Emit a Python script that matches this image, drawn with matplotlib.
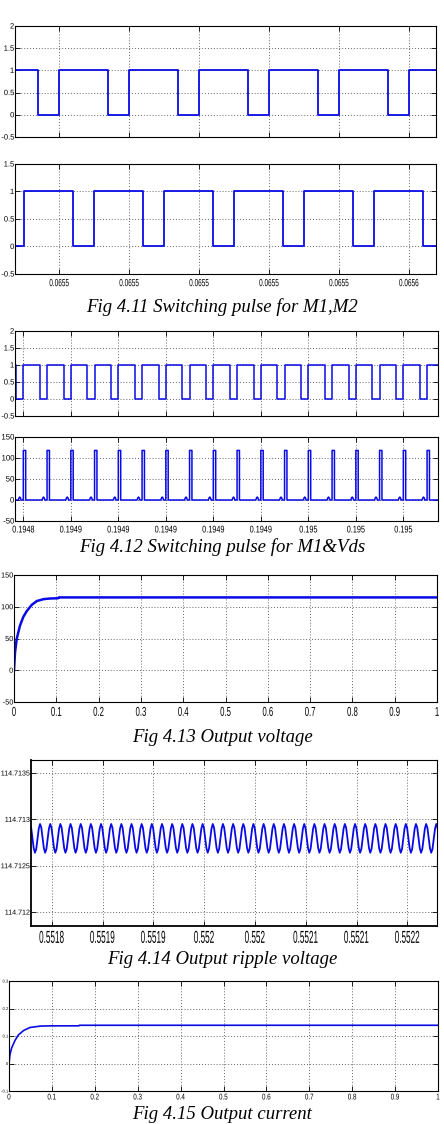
import matplotlib
matplotlib.use('Agg')
import matplotlib.pyplot as plt
import matplotlib.patheffects as pe
from matplotlib.transforms import Affine2D

W, H = 444, 1124

# Fig 4.11 switching pulses for M1, M2 (time in s)
f411_ticks = [0.06550, 0.06551, 0.06552, 0.06553, 0.06554, 0.06555]
f411_tick_labels = ['0.0655', '0.0655', '0.0655', '0.0655', '0.0655', '0.0656']
f411_xlim = (0.0654937, 0.0655539)
m1_rise = [0.06550, 0.06551, 0.06552, 0.06553, 0.06554, 0.06555]
m1_fall = [0.065497, 0.065507, 0.065517, 0.065527, 0.065537, 0.065547]
m2_rise = [0.065495, 0.065505, 0.065515, 0.065525, 0.065535, 0.065545]
m2_fall = [0.065502, 0.065512, 0.065522, 0.065532, 0.065542, 0.065552]

# Fig 4.12 switching pulse for M1 and Vds
f412_ticks = [0.19484, 0.19486, 0.19488, 0.19490, 0.19492, 0.19494, 0.19496, 0.19498, 0.19500]
f412_tick_labels = ['0.1948', '0.1949', '0.1949', '0.1949', '0.1949', '0.1949', '0.195', '0.195', '0.195']
f412_xlim = (0.1948365, 0.1950146)
g1_rise = [0.19484, 0.19485, 0.19486, 0.19487, 0.19488, 0.19489, 0.19490, 0.19491, 0.19492,
           0.19493, 0.19494, 0.19495, 0.19496, 0.19497, 0.19498, 0.19499, 0.19500, 0.19501]
g1_low_time = 3.07e-6
# one Vds pulse around each gate rising edge: offsets (s) and values (V)
vds_offsets = [-2.1e-6, -1.8e-6, -1.5e-6, -1.2e-6, -0.95e-6, 0.0, 0.0, 1.0e-6, 1.0e-6]
vds_values = [0, 5, 7, 5, 0, 0, 118, 118, 0]

# Fig 4.13 output voltage
vout_t = [0, 0.0024, 0.0063, 0.014, 0.022, 0.030, 0.042, 0.054, 0.070, 0.086, 0.100, 0.105, 0.106, 1.0]
vout_v = [0, 28, 49, 70, 84, 93, 103, 109, 112, 113, 113.3, 113.6, 114.7, 114.7]

# Fig 4.14 output ripple voltage
f414_ticks = [0.55180, 0.55185, 0.55190, 0.55195, 0.55200, 0.55205, 0.55210, 0.55215]
f414_tick_labels = ['0.5518', '0.5519', '0.5519', '0.552', '0.552', '0.5521', '0.5521', '0.5522']
f414_xlim = (0.5517796, 0.5521792)
f414_yticks = [114.712, 114.7125, 114.713, 114.7135]
f414_ytick_labels = ['114.712', '114.7125', '114.713', '114.7135']
ripple_first_peak = 0.5517885
ripple_period = 1e-5
ripple_cycles = 41
ripple_cycle = [114.71295, 114.71291, 114.71280, 114.71269, 114.71264, 114.71268, 114.71279, 114.71290]

# Fig 4.15 output current
iout_t = [0, 0.0023, 0.006, 0.014, 0.022, 0.034, 0.049, 0.073, 0.100, 0.163, 0.164, 1.0]
iout_i = [0, 0.032, 0.056, 0.084, 0.104, 0.120, 0.131, 0.136, 0.137, 0.137, 0.139, 0.139]

time_ticks = [0, 0.1, 0.2, 0.3, 0.4, 0.5, 0.6, 0.7, 0.8, 0.9, 1.0]
time_tick_labels = ['0', '0.1', '0.2', '0.3', '0.4', '0.5', '0.6', '0.7', '0.8', '0.9', '1']

BLUE = '#0a0ae6'


class Squeeze(pe.AbstractPathEffect):
    # squeeze text horizontally (narrow MATLAB screenshot font)
    def __init__(self, sx, anchor='center'):
        super().__init__()
        self.sx = sx
        self.anchor = anchor

    def draw_path(self, renderer, gc, tpath, affine, rgbFace=None):
        ext = tpath.get_extents()
        if self.anchor == 'right':
            cx = ext.x1
        else:
            cx = (ext.x0 + ext.x1) / 2
        t = Affine2D().translate(-cx, 0).scale(self.sx, 1).translate(cx, 0) + affine
        renderer.draw_path(gc, tpath, t, rgbFace)


def make_axes(l, t, r, b):
    ax = fig.add_axes([l / W, 1 - b / H, (r - l) / W, (b - t) / H])
    ax.grid(True, color='0.4', linestyle=(0, (1, 2)), linewidth=0.7)
    ax.tick_params(direction='in', top=True, right=True, length=3.5, width=0.6, pad=0.6)
    for s in ax.spines.values():
        s.set_linewidth(0.8)
    return ax


def style_labels(ax, xsize, xsx, ysize, ysx, xpad):
    ax.tick_params(axis='x', labelsize=xsize, pad=xpad)
    ax.tick_params(axis='y', labelsize=ysize)
    for lab in ax.get_xticklabels():
        lab.set_path_effects([Squeeze(xsx, 'center')])
    for lab in ax.get_yticklabels():
        lab.set_path_effects([Squeeze(ysx, 'right')])


def square(rise, fall, start, xlim):
    ev = sorted([(t, 1) for t in rise] + [(t, 0) for t in fall])
    xs = [xlim[0]] + [e[0] for e in ev] + [xlim[1]]
    ys = [start] + [e[1] for e in ev] + [ev[-1][1]]
    return xs, ys


def caption(y, s):
    fig.text(222 / W, 1 - y / H, s, ha='center', va='baseline',
             family=['Liberation Serif', 'DejaVu Serif'], style='italic', size=13.5)


plt.rcParams['font.family'] = ['Liberation Sans Narrow', 'Liberation Sans', 'DejaVu Sans']
fig = plt.figure(figsize=(W / 100, H / 100), dpi=100)

# ---- Fig 4.11 top: M1
ax = make_axes(15, 26, 436, 137)
xs, ys = square(m1_rise, m1_fall, 1, f411_xlim)
ax.step(xs, ys, where='post', color=BLUE, lw=1.3)
ax.set_xlim(*f411_xlim)
ax.set_ylim(-0.5, 2)
ax.set_xticks(f411_ticks, [])
ax.set_yticks([-0.5, 0, 0.5, 1, 1.5, 2], ['-0.5', '0', '0.5', '1', '1.5', '2'])
style_labels(ax, 7.5, 0.62, 7, 0.78, 3)

# ---- Fig 4.11 bottom: M2
ax = make_axes(15, 164, 436, 274)
xs, ys = square(m2_rise, m2_fall, 0, f411_xlim)
ax.step(xs, ys, where='post', color=BLUE, lw=1.3)
ax.set_xlim(*f411_xlim)
ax.set_ylim(-0.5, 1.5)
ax.set_xticks(f411_ticks, f411_tick_labels)
ax.set_yticks([-0.5, 0, 0.5, 1, 1.5], ['-0.5', '0', '0.5', '1', '1.5'])
style_labels(ax, 7.5, 0.62, 7, 0.78, 3)
caption(312, 'Fig 4.11 Switching pulse for M1,M2')

# ---- Fig 4.12 top: gate of M1
ax = make_axes(15, 331, 438, 416)
g1_fall = [t - g1_low_time for t in g1_rise]
xs, ys = square(g1_rise, g1_fall, 1, f412_xlim)
ax.step(xs, ys, where='post', color=BLUE, lw=1.1)
ax.set_xlim(*f412_xlim)
ax.set_ylim(-0.5, 2)
ax.set_xticks(f412_ticks, [])
ax.set_yticks([-0.5, 0, 0.5, 1, 1.5, 2], ['-0.5', '0', '0.5', '1', '1.5', '2'])
style_labels(ax, 7, 0.75, 7, 0.78, 2.5)

# ---- Fig 4.12 bottom: Vds
ax = make_axes(15, 437, 438, 521)
vx = [f412_xlim[0]] + [r + o for r in g1_rise for o in vds_offsets] + [f412_xlim[1]]
vy = [0] + vds_values * len(g1_rise) + [0]
ax.plot(vx, vy, color=BLUE, lw=1.1)
ax.set_xlim(*f412_xlim)
ax.set_ylim(-50, 150)
ax.set_xticks(f412_ticks, f412_tick_labels)
ax.set_yticks([-50, 0, 50, 100, 150], ['-50', '0', '50', '100', '150'])
style_labels(ax, 7, 0.75, 7, 0.8, 2.5)
caption(552, 'Fig 4.12 Switching pulse for M1&Vds')

# ---- Fig 4.13 output voltage
ax = make_axes(14, 575, 437, 702)
ax.plot(vout_t, vout_v, color=BLUE, lw=1.8)
ax.set_xlim(0, 1)
ax.set_ylim(-50, 150)
ax.set_xticks(time_ticks, time_tick_labels)
ax.set_yticks([-50, 0, 50, 100, 150], ['-50', '0', '50', '100', '150'])
style_labels(ax, 9.3, 0.6, 8, 0.72, 3.5)
caption(742, 'Fig 4.13 Output voltage')

# ---- Fig 4.14 output ripple voltage
ax = make_axes(31, 760, 437, 926)
rx, ry = [], []
n = len(ripple_cycle)
for k in range(-1, ripple_cycles):
    for j, v in enumerate(ripple_cycle):
        rx.append(ripple_first_peak + (k + j / n) * ripple_period)
        ry.append(v)
ax.plot(rx, ry, color=BLUE, lw=1.3)
ax.set_xlim(*f414_xlim)
ax.set_ylim(114.71185, 114.71364)
ax.set_xticks(f414_ticks, f414_tick_labels)
ax.set_yticks(f414_yticks, f414_ytick_labels)
for s in ['left', 'bottom']:
    ax.spines[s].set_linewidth(1.3)
style_labels(ax, 12.5, 0.47, 9, 0.62, 3.5)
caption(964, 'Fig 4.14 Output ripple voltage')

# ---- Fig 4.15 output current
ax = make_axes(9, 981, 438, 1091)
ax.plot(iout_t, iout_i, color=BLUE, lw=1.2)
ax.set_xlim(0, 1)
ax.set_ylim(-0.1, 0.3)
ax.set_xticks(time_ticks, time_tick_labels)
ax.set_yticks([-0.1, 0, 0.1, 0.2, 0.3], ['-0.1', '0', '0.1', '0.2', '0.3'])
style_labels(ax, 6, 0.75, 5, 0.6, 2.5)
caption(1119, 'Fig 4.15 Output current')

# y labels next to the left edge: shrink the font until the label box fits,
# and loosen the squeeze so the drawn width stays about the same
fig.canvas.draw()
rend = fig.canvas.get_renderer()
for ax in fig.axes:
    labs = ax.get_yticklabels()
    fit = 1.0
    for lab in labs:
        bb = lab.get_window_extent(rend)
        if bb.x0 < 1.0:
            fit = min(fit, (bb.x1 - 1.0) / bb.width)
    if fit < 1.0:
        for lab in labs:
            sq = lab.get_path_effects()[0]
            lab.set_fontsize(lab.get_fontsize() * fit)
            sq.sx = min(1.0, sq.sx / fit)

fig.savefig('out.png', dpi=100)
